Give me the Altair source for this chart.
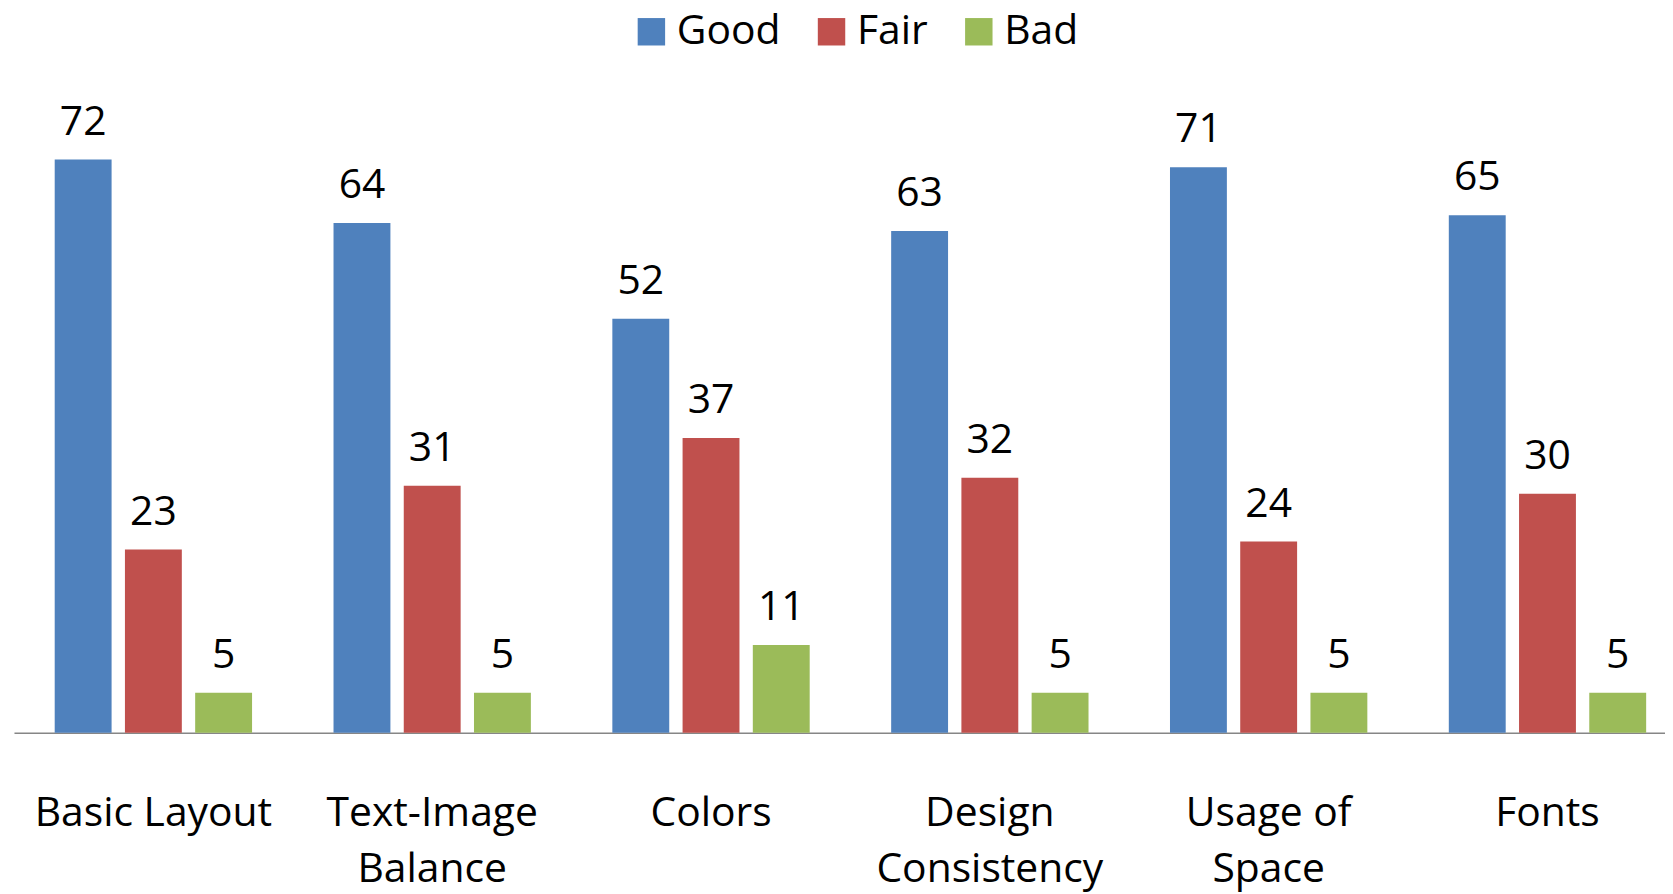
import altair as alt
import pandas as pd

categories = ["Basic Layout", "Text-Image Balance", "Colors", "Design Consistency", "Usage of Space", "Fonts"]
tick_labels = [["Basic Layout"], ["Text-Image", "Balance"], ["Colors"], ["Design", "Consistency"], ["Usage of", "Space"], ["Fonts"]]
series = ["Good", "Fair", "Bad"]
good = [72, 64, 52, 63, 71, 65]
fair = [23, 31, 37, 32, 24, 30]
bad = [5, 5, 11, 5, 5, 5]
colors = ["#4F81BD", "#C0504D", "#9BBB59"]

rows = []
for s, vals in zip(series, [good, fair, bad]):
    for c, v in zip(categories, vals):
        rows.append({"category": c, "series": s, "value": v})
df = pd.DataFrame(rows)

# label expression: multi-line tick labels
expr = "datum.value"
for c, lines in reversed(list(zip(categories, tick_labels))):
    arr = "[" + ",".join("'" + l + "'" for l in lines) + "]"
    expr = f"datum.value == '{c}' ? {arr} : ({expr})"

FONT = "Open Sans"

x_enc = alt.X(
    "category:N",
    sort=categories,
    scale=alt.Scale(domain=categories, range=[0, 1681], paddingInner=0, paddingOuter=0),
    axis=alt.Axis(
        title=None, ticks=False, labelAngle=0, labelFontSize=41, labelFont=FONT,
        labelColor="black", labelLineHeight=57, labelPadding=61, labelBaseline="top",
        labelExpr=expr, labelOverlap=False, labelBound=False, labelLimit=0,
        domainColor="#868686", domainWidth=1.5,
    ),
)
xoff_enc = alt.XOffset(
    "series:N", sort=series,
    scale=alt.Scale(domain=series, paddingInner=0.19, paddingOuter=0.58),
)
y_enc = alt.Y("value:Q", scale=alt.Scale(domain=[0, 80], nice=False, zero=True), axis=None)

bars = alt.Chart(df).mark_bar().encode(
    x=x_enc,
    xOffset=xoff_enc,
    y=y_enc,
    color=alt.Color(
        "series:N",
        sort=series,
        scale=alt.Scale(domain=series, range=colors),
        legend=alt.Legend(
            title=None, orient="none", direction="horizontal",
            legendX=620, legendY=-85, symbolType="square", symbolSize=760,
            symbolStrokeWidth=0, symbolOpacity=1, labelFontSize=41, labelFont=FONT,
            labelColor="black", labelOffset=5, columnPadding=30, padding=0,
        ),
    ),
)

labels = alt.Chart(df).mark_text(
    baseline="alphabetic", dy=-25, fontSize=41, font=FONT, color="black"
).encode(
    x=x_enc,
    xOffset=xoff_enc,
    y=y_enc,
    text="value:Q",
)

chart = alt.layer(bars, labels).properties(
    width=1659,
    height=640,
    background="white",
    autosize=alt.AutoSizeParams(type="none"),
    padding={"left": 6, "right": 0, "top": 86, "bottom": 160},
).configure_view(stroke=None)

chart.save("out.html", embed_options={"renderer": "svg", "actions": False})
